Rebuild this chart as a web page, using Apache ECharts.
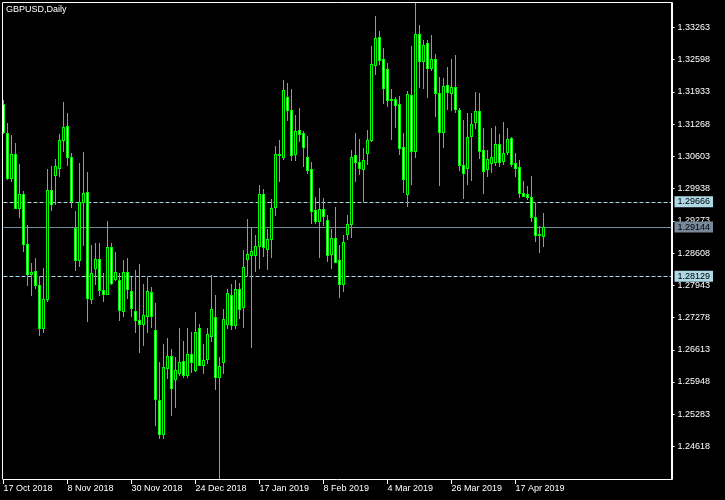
<!DOCTYPE html>
<html><head><meta charset="utf-8">
<script src="https://cdn.jsdelivr.net/npm/echarts@6/dist/echarts.min.js"></script>
<style>html,body{margin:0;padding:0;background:#000;}#c{width:725px;height:500px;}</style>
</head><body><div id="c"></div>
<script>
const dates = [
'17 Oct 2018','18 Oct 2018','19 Oct 2018','22 Oct 2018','23 Oct 2018','24 Oct 2018','25 Oct 2018','26 Oct 2018','29 Oct 2018','30 Oct 2018','31 Oct 2018',
'1 Nov 2018','2 Nov 2018','5 Nov 2018','6 Nov 2018','7 Nov 2018','8 Nov 2018','9 Nov 2018','12 Nov 2018','13 Nov 2018','14 Nov 2018','15 Nov 2018','16 Nov 2018','19 Nov 2018','20 Nov 2018','21 Nov 2018','22 Nov 2018','23 Nov 2018','26 Nov 2018','27 Nov 2018','28 Nov 2018','29 Nov 2018','30 Nov 2018',
'3 Dec 2018','4 Dec 2018','5 Dec 2018','6 Dec 2018','7 Dec 2018','10 Dec 2018','11 Dec 2018','12 Dec 2018','13 Dec 2018','14 Dec 2018','17 Dec 2018','18 Dec 2018','19 Dec 2018','20 Dec 2018','21 Dec 2018','24 Dec 2018','26 Dec 2018','27 Dec 2018','28 Dec 2018','31 Dec 2018',
'2 Jan 2019','3 Jan 2019','4 Jan 2019','7 Jan 2019','8 Jan 2019','9 Jan 2019','10 Jan 2019','11 Jan 2019','14 Jan 2019','15 Jan 2019','16 Jan 2019','17 Jan 2019','18 Jan 2019','21 Jan 2019','22 Jan 2019','23 Jan 2019','24 Jan 2019','25 Jan 2019','28 Jan 2019','29 Jan 2019','30 Jan 2019','31 Jan 2019',
'1 Feb 2019','4 Feb 2019','5 Feb 2019','6 Feb 2019','7 Feb 2019','8 Feb 2019','11 Feb 2019','12 Feb 2019','13 Feb 2019','14 Feb 2019','15 Feb 2019','18 Feb 2019','19 Feb 2019','20 Feb 2019','21 Feb 2019','22 Feb 2019','25 Feb 2019','26 Feb 2019','27 Feb 2019','28 Feb 2019',
'1 Mar 2019','4 Mar 2019','5 Mar 2019','6 Mar 2019','7 Mar 2019','8 Mar 2019','11 Mar 2019','12 Mar 2019','13 Mar 2019','14 Mar 2019','15 Mar 2019','18 Mar 2019','19 Mar 2019','20 Mar 2019','21 Mar 2019','22 Mar 2019','25 Mar 2019','26 Mar 2019','27 Mar 2019','28 Mar 2019','29 Mar 2019',
'1 Apr 2019','2 Apr 2019','3 Apr 2019','4 Apr 2019','5 Apr 2019','8 Apr 2019','9 Apr 2019','10 Apr 2019','11 Apr 2019','12 Apr 2019','15 Apr 2019','16 Apr 2019','17 Apr 2019','18 Apr 2019','19 Apr 2019','22 Apr 2019','23 Apr 2019','24 Apr 2019','25 Apr 2019','26 Apr 2019'
];
const emptySlots = ['f1','f2','f3','f4','f5','f6','f7','f8','f9','f10','f11','f12','f13','f14','f15','f16','f17','f18','f19','f20','f21','f22','f23','f24','f25','f26','f27','f28','f29','f30','f31','f32'];

const open = [
1.31675,1.31091,1.30163,1.30643,1.29544,1.29818,1.28787,1.28168,1.28236,1.27947,
1.27068,1.27666,1.29907,1.30216,1.30355,1.30938,1.31227,1.30596,1.29131,1.28463,
1.29668,1.29874,1.27652,1.28306,1.28492,1.27844,1.27770,1.28739,1.28079,1.28050,
1.27411,1.28224,1.27823,1.27411,1.27225,1.27136,1.27308,1.27803,1.27019,1.25575,
1.24867,1.26243,1.26482,1.26002,1.26140,1.26379,1.26090,1.26532,1.26194,1.27068,
1.26297,1.26429,1.26895,1.27295,1.26049,1.26367,1.27136,1.27735,1.27122,1.27873,
1.27501,1.28492,1.28566,1.28566,1.28752,1.29833,1.28698,1.28904,1.29564,1.30658,
1.30588,1.31834,1.31551,1.30643,1.31139,1.31091,1.30596,1.30334,1.29488,1.29267,
1.29509,1.29282,1.28595,1.28925,1.28457,1.27976,1.29007,1.29214,1.30623,1.30493,
1.30348,1.30678,1.30938,1.32486,1.33072,1.32603,1.32411,1.31764,1.31778,1.31689,
1.30802,1.29833,1.31867,1.30711,1.33119,1.32568,1.32948,1.32432,1.32618,1.31916,
1.31112,1.32073,1.31916,1.32040,1.31557,1.30423,1.30369,1.31021,1.31310,1.31537,
1.30732,1.30334,1.30472,1.30485,1.30864,1.30505,1.30691,1.30988,1.30472,1.30390,
1.29839,1.29818,1.29763,1.29358,1.28979,1.28958
];
const high = [
1.31757,1.31297,1.31035,1.30885,1.30437,1.29886,1.29179,1.28409,1.28512,1.28127,
1.28292,1.30334,1.30402,1.30540,1.31056,1.31731,1.31489,1.30678,1.29474,1.30458,
1.30699,1.30287,1.28766,1.28822,1.28822,1.28188,1.29267,1.28822,1.28636,1.28188,
1.28463,1.28498,1.28112,1.28250,1.28389,1.27976,1.28112,1.27906,1.27584,1.26367,
1.26724,1.26862,1.26621,1.26470,1.27054,1.26792,1.27068,1.26977,1.27390,1.27136,
1.26738,1.27068,1.28147,1.27735,1.26470,1.27446,1.27858,1.27961,1.28044,1.27997,
1.28663,1.29302,1.29131,1.28972,1.30004,1.29921,1.29096,1.29730,1.30815,1.30932,
1.32170,1.32108,1.31984,1.31448,1.31592,1.31124,1.31021,1.30493,1.29771,1.29956,
1.29750,1.29385,1.29096,1.29564,1.28766,1.28972,1.29385,1.30726,1.31077,1.30953,
1.30782,1.31139,1.32878,1.33497,1.33187,1.32845,1.32521,1.31984,1.31826,1.31846,
1.31077,1.31949,1.32878,1.33785,1.33305,1.32995,1.32995,1.33098,1.32706,1.32246,
1.32226,1.32453,1.32603,1.32686,1.31607,1.31351,1.31489,1.31489,1.31937,1.31902,
1.31194,1.30726,1.31194,1.31227,1.31070,1.31318,1.31180,1.31000,1.30664,1.30520,
1.30093,1.29989,1.30196,1.29633,1.29164,1.29426
];
const low = [
1.31080,1.30128,1.30093,1.29529,1.29350,1.28648,1.27947,1.27741,1.27879,1.26916,
1.26977,1.27617,1.29488,1.29626,1.30196,1.30711,1.30423,1.29556,1.28257,1.28339,
1.28772,1.27204,1.27570,1.27961,1.27741,1.27617,1.27755,1.27976,1.28050,1.27225,
1.27308,1.27687,1.27308,1.26977,1.26573,1.26709,1.26977,1.27089,1.25059,1.24799,
1.24799,1.26037,1.25265,1.25430,1.26090,1.26049,1.26049,1.26152,1.26173,1.26290,
1.26125,1.26332,1.26792,1.25795,1.23974,1.26125,1.27054,1.27033,1.27054,1.27260,
1.27089,1.28153,1.26668,1.28236,1.28292,1.28545,1.28271,1.28525,1.29391,1.30093,
1.30540,1.31351,1.30526,1.30526,1.30918,1.30402,1.30251,1.29220,1.29220,1.28525,
1.29185,1.28442,1.28306,1.28415,1.27699,1.27823,1.28890,1.28937,1.30093,1.30231,
1.29680,1.30451,1.30920,1.32294,1.32500,1.31696,1.31640,1.30953,1.31207,1.30643,
1.29866,1.29577,1.30024,1.30596,1.32040,1.32005,1.31826,1.32376,1.31434,1.30010,
1.30794,1.31572,1.31557,1.31516,1.30320,1.29736,1.30024,1.30113,1.31180,1.30561,
1.29839,1.30196,1.30278,1.30416,1.30402,1.30451,1.30643,1.30402,1.30196,1.29763,
1.29783,1.29715,1.29267,1.28855,1.28628,1.28752
];
const close = [
1.31100,1.30163,1.30643,1.29544,1.29818,1.28787,1.28168,1.28219,1.27947,1.27068,
1.27666,1.29907,1.29626,1.30396,1.30947,1.31215,1.30596,1.29680,1.28463,1.29659,
1.29853,1.27687,1.28188,1.28492,1.27844,1.27755,1.28739,1.27997,1.28224,1.27431,
1.28224,1.27858,1.27481,1.27225,1.27151,1.27322,1.27823,1.27308,1.25603,1.24867,
1.26255,1.26482,1.25830,1.26194,1.26367,1.26099,1.26532,1.26367,1.26986,1.26297,
1.26400,1.26944,1.27446,1.26049,1.26276,1.27239,1.27776,1.27122,1.27858,1.27460,
1.28327,1.28595,1.28648,1.28752,1.29833,1.28739,1.28904,1.29544,1.30658,1.30623,
1.31964,1.31557,1.30629,1.31124,1.31056,1.30802,1.30320,1.29474,1.29267,1.29509,
1.29371,1.28566,1.28910,1.28430,1.27976,1.28842,1.29199,1.30596,1.30493,1.30369,
1.30520,1.30938,1.32500,1.33051,1.32589,1.32019,1.31764,1.31788,1.31660,1.30782,
1.30142,1.31881,1.30711,1.33119,1.32568,1.32892,1.32432,1.32618,1.31916,1.31112,
1.32052,1.31937,1.32040,1.31572,1.30423,1.30266,1.31009,1.31262,1.31537,1.30711,
1.30299,1.30555,1.30596,1.30864,1.30485,1.30678,1.30953,1.30451,1.30369,1.29853,
1.29783,1.29771,1.29358,1.28979,1.28993,1.29144
];
const yTicks = [1.24618,1.25283,1.25948,1.26613,1.27278,1.27943,1.28608,1.29273,1.29938,1.30603,1.31268,1.31933,1.32598,1.33263];
const xLabels = ['17 Oct 2018','8 Nov 2018','30 Nov 2018','24 Dec 2018','17 Jan 2019','8 Feb 2019','4 Mar 2019','26 Mar 2019','17 Apr 2019'];
const dashedLevels = [1.29666, 1.28129];
const bidPrice = 1.29144;

const FONT = 'Liberation Sans';
const LIME = '#00ff00', LEVEL = '#add8e6', BID = '#778899';
const categories = dates.concat(emptySlots);
const candleData = open.map((o, i) => [i, o, close[i], low[i], high[i]]);
const levelData = dashedLevels.map(v => [v, 0]).concat([[bidPrice, 1]]);
const levelValues = dashedLevels.concat([bidPrice]);
const showLabel = (idx, val) => xLabels.indexOf(val) >= 0;
const YMIN = 1.23947, YMAX = 1.337675;

function renderCandle(params, api) {
  const i = api.value(0);
  const o = api.value(1), c = api.value(2), l = api.value(3), h = api.value(4);
  const pO = api.coord([i, o]);
  const px = Math.floor(pO[0]);
  const yO = Math.round(pO[1]);
  const yC = Math.round(api.coord([i, c])[1]);
  const yH = Math.round(api.coord([i, h])[1]);
  const yL = Math.round(api.coord([i, l])[1]);
  const top = Math.min(yO, yC), bot = Math.max(yO, yC);
  const children = [
    {type: 'rect', shape: {x: px, y: yH, width: 1, height: yL - yH + 1}, style: {fill: LIME}},
    {type: 'rect', shape: {x: px - 1, y: top, width: 3, height: bot - top + 1}, style: {fill: LIME}}
  ];
  if (bot - top >= 2) {
    children.push({type: 'rect', shape: {x: px, y: top + 1, width: 1, height: bot - top - 1},
      style: {fill: c > o ? '#000' : '#fff'}});
  }
  return {type: 'group', children};
}

function renderLevel(params, api) {
  const cs = params.coordSys;
  const y = Math.round(api.coord([0, api.value(0)])[1]) + 0.5;
  const isBid = api.value(1) === 1;
  return {
    type: 'line', silent: true,
    shape: {x1: cs.x, y1: y, x2: cs.x + cs.width, y2: y},
    style: {stroke: isBid ? BID : LEVEL, lineWidth: 1, lineDash: isBid ? null : [4, 2]}
  };
}

const chart = echarts.init(document.getElementById('c'), null, {renderer: 'canvas'});
chart.setOption({
  backgroundColor: '#000',
  animation: false,
  title: {
    text: 'GBPUSD,Daily', left: 6, top: 5, padding: 0,
    textStyle: {color: '#fff', fontSize: 9, fontWeight: 'normal', fontFamily: FONT}
  },
  grid: {left: 3.5, top: 3, width: 668, height: 476, containLabel: false},
  xAxis: {
    type: 'category', data: categories, boundaryGap: false,
    axisLine: {show: true, lineStyle: {color: '#fff', width: 1}},
    axisTick: {show: true, interval: showLabel, length: 5, lineStyle: {color: '#fff'}},
    axisLabel: {interval: showLabel, align: 'left', color: '#fff', fontSize: 9, fontFamily: FONT, margin: 5},
    splitLine: {show: false}
  },
  yAxis: [{
    type: 'value', position: 'right', min: YMIN, max: YMAX,
    axisLine: {show: true, lineStyle: {color: '#fff', width: 2}},
    axisTick: {show: true, customValues: yTicks, length: 3, lineStyle: {color: '#fff'}},
    axisLabel: {customValues: yTicks, color: '#fff', fontSize: 9, fontFamily: FONT, margin: 6,
      formatter: (v) => Number(v).toFixed(5)},
    splitLine: {show: false}
  }, {
    type: 'value', position: 'right', min: YMIN, max: YMAX, z: 5,
    axisLine: {show: false}, axisTick: {show: false}, splitLine: {show: false},
    axisLabel: {
      customValues: levelValues, margin: 3, fontSize: 9, fontFamily: FONT,
      formatter: (v) => (Math.abs(v - bidPrice) < 1e-7 ? '{b|' : '{a|') + Number(v).toFixed(5) + '}',
      rich: {
        a: {backgroundColor: LEVEL, color: '#000', padding: [1, 3, 1, 3], fontSize: 9, fontFamily: FONT, lineHeight: 9},
        b: {backgroundColor: BID, color: '#000', padding: [1, 3, 1, 3], fontSize: 9, fontFamily: FONT, lineHeight: 9}
      }
    }
  }],
  graphic: [{
    type: 'polyline', silent: true, z: 100,
    shape: {points: [[2.5, 479.5], [2.5, 2.5], [672, 2.5]]},
    style: {stroke: '#fff', lineWidth: 1, fill: null}
  }],
  series: [{
    type: 'custom', name: 'levels', data: levelData, yAxisIndex: 0, z: 1,
    encode: {y: 0}, renderItem: renderLevel, silent: true
  }, {
    type: 'custom', name: 'GBPUSD', data: candleData, yAxisIndex: 0, z: 2, clip: true,
    encode: {x: 0, y: [1, 2, 3, 4]}, renderItem: renderCandle, silent: true
  }]
});
</script></body></html>
